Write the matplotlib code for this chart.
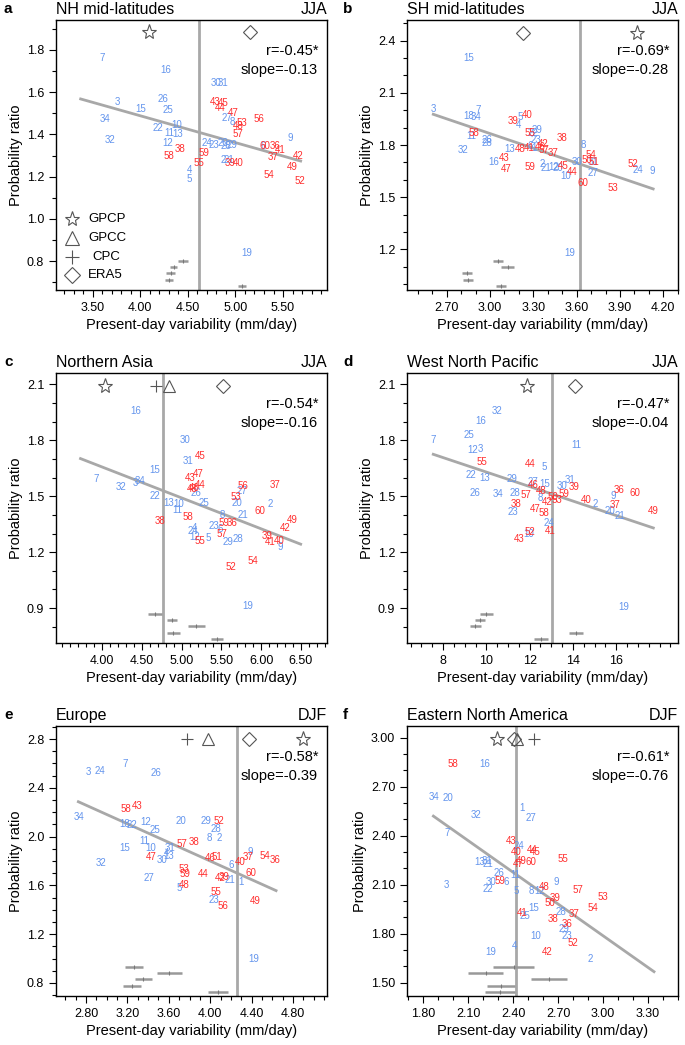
import matplotlib
matplotlib.use("Agg")
import matplotlib.pyplot as plt
from matplotlib.ticker import MultipleLocator, FixedLocator, FormatStrFormatter

plt.rcParams['font.family'] = ['Liberation Sans', 'DejaVu Sans']

BLUE = '#6495ED'
RED = '#FF2F2F'
GRAY = '#A8A8A8'

# ---- panel a: NH mid-latitudes JJA
a_ids = [7, 16, 30, 31, 3, 15, 26, 25, 34, 22, 10, 11, 13, 32, 12, 27, 8, 24, 23, 20, 28, 29, 6, 9, 2, 21, 4, 5, 19,
         43, 45, 44, 47, 53, 48, 57, 56, 38, 58, 59, 55, 60, 36, 41, 37, 42, 39, 40, 49, 54, 52]
a_x = [3.60, 4.27, 4.80, 4.87, 3.76, 4.00, 4.235, 4.29, 3.63, 4.19, 4.38, 4.31, 4.39, 3.68, 4.29, 4.91, 4.97, 4.70,
       4.77, 4.87, 4.90, 4.96, 5.29, 5.58, 4.87, 4.93, 4.52, 4.51, 5.12,
       4.785, 4.87, 4.84, 4.98, 5.065, 5.03, 5.03, 5.25, 4.42, 4.30, 4.67, 4.62, 5.31, 5.415, 5.47, 5.40, 5.66,
       4.94, 5.03, 5.60, 5.355, 5.68]
a_y = [1.76, 1.705, 1.645, 1.645, 1.554, 1.52, 1.57, 1.516, 1.473, 1.43, 1.443, 1.405, 1.40, 1.373, 1.358, 1.48,
       1.46, 1.36, 1.348, 1.36, 1.344, 1.348, 1.345, 1.385, 1.279, 1.279, 1.23, 1.19, 0.836,
       1.555, 1.547, 1.524, 1.503, 1.456, 1.44, 1.40, 1.473, 1.33, 1.30, 1.31, 1.266, 1.345, 1.345, 1.326, 1.294,
       1.297, 1.263, 1.263, 1.247, 1.208, 1.18]

# ---- panel b: SH mid-latitudes JJA
b_ids = [15, 3, 18, 7, 34, 5, 4, 11, 26, 28, 32, 13, 29, 22, 23, 6, 1, 16, 2, 8, 30, 31, 21, 12, 20, 10, 27, 24, 9, 19,
         40, 39, 58, 55, 38, 48, 41, 42, 46, 57, 37, 54, 50, 51, 43, 47, 59, 45, 44, 60, 53, 52]
b_x = [2.85, 2.607, 2.85, 2.92, 2.90, 3.21, 3.196, 2.873, 2.98, 2.98, 2.81, 3.134, 3.327, 3.30, 3.32, 3.277, 3.307,
       3.023, 3.365, 3.646, 3.60, 3.715, 3.39, 3.44, 3.473, 3.526, 3.715, 4.027, 4.127, 3.554,
       3.254, 3.157, 2.889, 3.273, 3.50, 3.212, 3.272, 3.369, 3.346, 3.374, 3.438, 3.697, 3.67, 3.72, 3.10, 3.11,
       3.277, 3.508, 3.572, 3.646, 3.85, 3.99]
b_y = [2.302, 2.006, 1.967, 2.002, 1.96, 1.963, 1.915, 1.852, 1.829, 1.81, 1.772, 1.778, 1.887, 1.868, 1.829, 1.795,
       1.783, 1.70, 1.69, 1.80, 1.705, 1.70, 1.667, 1.672, 1.667, 1.624, 1.642, 1.657, 1.65, 1.178,
       1.973, 1.94, 1.868, 1.871, 1.843, 1.776, 1.782, 1.807, 1.791, 1.772, 1.756, 1.743, 1.714, 1.705, 1.724,
       1.661, 1.672, 1.682, 1.644, 1.58, 1.555, 1.69]

# ---- panel c: Northern Asia JJA
c_ids = [16, 30, 31, 15, 7, 32, 3, 34, 26, 27, 20, 2, 22, 13, 10, 25, 11, 8, 21, 23, 6, 24, 4, 12, 5, 29, 28, 9, 19,
         45, 47, 43, 44, 46, 48, 56, 37, 53, 38, 58, 60, 49, 42, 59, 36, 57, 55, 39, 41, 40, 52, 54]
c_x = [4.427, 5.043, 5.084, 4.666, 3.933, 4.235, 4.415, 4.477, 5.181, 5.755, 5.692, 6.11, 4.666, 4.833, 4.958,
       5.285, 4.946, 5.516, 5.767, 5.406, 5.482, 5.139, 5.16, 5.168, 5.336, 5.587, 5.712, 6.245, 5.833,
       5.231, 5.21, 5.106, 5.231, 5.156, 5.139, 5.767, 6.173, 5.68, 4.73, 5.084, 5.985, 6.396, 6.303, 5.532, 5.64,
       5.503, 5.231, 6.069, 6.119, 6.228, 5.624, 5.896]
c_y = [1.957, 1.800, 1.689, 1.639, 1.591, 1.547, 1.571, 1.582, 1.520, 1.527, 1.464, 1.461, 1.500, 1.464, 1.456,
       1.464, 1.425, 1.402, 1.402, 1.339, 1.327, 1.314, 1.332, 1.282, 1.277, 1.255, 1.270, 1.229, 0.911,
       1.714, 1.622, 1.598, 1.559, 1.545, 1.539, 1.555, 1.563, 1.496, 1.366, 1.389, 1.420, 1.375, 1.332, 1.357,
       1.354, 1.295, 1.259, 1.286, 1.255, 1.259, 1.121, 1.152]

# ---- panel d: West North Pacific JJA
d_ids = [32, 16, 25, 7, 12, 3, 11, 5, 22, 13, 29, 27, 15, 30, 31, 9, 26, 34, 28, 8, 2, 20, 21, 23, 24, 10, 19,
         55, 44, 46, 48, 39, 36, 60, 57, 42, 50, 53, 59, 40, 37, 49, 38, 47, 58, 41, 52, 43]
d_x = [10.51, 9.755, 9.215, 7.55, 9.37, 9.71, 14.14, 12.665, 9.28, 9.94, 11.17, 12.17, 12.71, 13.48, 13.87, 15.87,
       9.48, 10.55, 11.33, 12.51, 15.05, 15.71, 16.18, 11.22, 12.91, 11.94, 16.33,
       9.815, 12.02, 12.17, 12.51, 14.05, 16.14, 16.84, 11.83, 12.79, 13.09, 13.28, 13.6, 14.59, 15.94, 17.69,
       11.37, 12.25, 12.665, 12.94, 12.02, 11.52]
d_y = [1.957, 1.903, 1.827, 1.804, 1.746, 1.756, 1.773, 1.657, 1.613, 1.60, 1.591, 1.577, 1.564, 1.554, 1.586, 1.50,
       1.515, 1.511, 1.52, 1.493, 1.461, 1.421, 1.393, 1.413, 1.357, 1.30, 0.907,
       1.684, 1.672, 1.559, 1.529, 1.55, 1.536, 1.52, 1.505, 1.47, 1.496, 1.482, 1.514, 1.479, 1.452, 1.421,
       1.457, 1.434, 1.41, 1.314, 1.309, 1.273]

# ---- panel e: Europe DJF
e_ids = [3, 24, 7, 26, 34, 18, 22, 12, 25, 20, 29, 28, 11, 8, 2, 15, 10, 31, 4, 13, 30, 32, 6, 9, 27, 21, 1, 5, 23, 19,
         58, 43, 52, 57, 38, 47, 46, 51, 40, 37, 54, 36, 53, 59, 44, 42, 39, 60, 48, 55, 56, 49]
e_x = [2.82, 2.93, 3.177, 3.473, 2.732, 3.177, 3.24, 3.38, 3.467, 3.715, 3.957, 4.053, 3.36, 3.99, 4.088, 3.17,
       3.428, 3.61, 3.58, 3.595, 3.531, 2.945, 4.20, 4.385, 3.409, 4.191, 4.298, 3.699, 4.037, 4.417,
       3.184, 3.29, 4.085, 3.73, 3.843, 3.425, 3.998, 4.063, 4.288, 4.362, 4.53, 4.626, 3.75, 3.757, 3.933, 4.095,
       4.136, 4.394, 3.747, 4.056, 4.127, 4.433]
e_y = [2.532, 2.540, 2.595, 2.519, 2.158, 2.103, 2.095, 2.122, 2.054, 2.130, 2.130, 2.060, 1.966, 1.986, 1.986,
       1.904, 1.904, 1.904, 1.868, 1.841, 1.808, 1.786, 1.767, 1.876, 1.658, 1.644, 1.630, 1.576, 1.480, 0.994,
       2.226, 2.251, 2.130, 1.937, 1.958, 1.830, 1.822, 1.830, 1.794, 1.835, 1.843, 1.808, 1.732, 1.691, 1.691,
       1.658, 1.671, 1.704, 1.603, 1.548, 1.431, 1.475]

# ---- panel f: Eastern North America DJF
f_ids = [16, 34, 20, 32, 1, 27, 7, 24, 13, 31, 21, 26, 11, 3, 30, 6, 22, 5, 8, 12, 9, 15, 28, 25, 29, 23, 10, 4, 19, 2,
         58, 43, 40, 44, 45, 55, 47, 49, 60, 59, 48, 57, 53, 39, 50, 54, 37, 41, 38, 36, 52, 42]
f_x = [2.213, 1.873, 1.965, 2.153, 2.458, 2.52, 1.958, 2.442, 2.18, 2.224, 2.235, 2.309, 2.413, 1.953, 2.251, 2.353,
       2.235, 2.42, 2.525, 2.575, 2.691, 2.535, 2.72, 2.48, 2.742, 2.758, 2.553, 2.413, 2.253, 2.913,
       2.002, 2.391, 2.42, 2.525, 2.547, 2.731, 2.435, 2.458, 2.52, 2.313, 2.607, 2.835, 2.998, 2.68, 2.647, 2.935,
       2.809, 2.458, 2.669, 2.758, 2.802, 2.625]
f_y = [2.839, 2.635, 2.629, 2.527, 2.568, 2.51, 2.418, 2.339, 2.241, 2.247, 2.227, 2.173, 2.159, 2.098, 2.115, 2.115,
       2.074, 2.063, 2.063, 2.063, 2.118, 1.955, 1.934, 1.908, 1.829, 1.786, 1.786, 1.724, 1.686, 1.645,
       2.839, 2.369, 2.302, 2.312, 2.298, 2.255, 2.225, 2.247, 2.237, 2.124, 2.088, 2.067, 2.023, 2.02, 1.99, 1.959,
       1.919, 1.925, 1.89, 1.859, 1.745, 1.686]

panel_letters = ['a', 'b', 'c', 'd', 'e', 'f']
panel_titles = ['NH mid-latitudes', 'SH mid-latitudes', 'Northern Asia', 'West North Pacific', 'Europe',
                'Eastern North America']
panel_seasons = ['JJA', 'JJA', 'JJA', 'JJA', 'DJF', 'DJF']
r_values = ['-0.45*', '-0.69*', '-0.54*', '-0.47*', '-0.58*', '-0.61*']
slope_values = ['-0.13', '-0.28', '-0.16', '-0.04', '-0.39', '-0.76']

# regression line end points (x0, x1, y0, y1)
fit_lines = [(3.374, 5.685, 1.568, 1.274), (2.607, 4.13, 1.977, 1.548), (3.73, 6.496, 1.702, 1.243),
             (7.55, 17.71, 1.725, 1.33), (2.726, 4.636, 2.286, 1.557), (1.869, 3.34, 2.52, 1.567)]
# observed present-day variability (vertical line)
obs_mean = [4.62, 3.624, 4.77, 13.02, 4.256, 2.42]

# observation markers: {name: x}, at height obs_y
obs_names = ['GPCP', 'GPCC', 'CPC', 'ERA5']
obs_symbols = {'GPCP': '*', 'GPCC': '^', 'CPC': '+', 'ERA5': 'D'}
obs_x = [{'GPCP': 4.09, 'ERA5': 5.15},
         {'ERA5': 3.226, 'GPCP': 4.016},
         {'GPCP': 4.04, 'CPC': 4.68, 'GPCC': 4.845, 'ERA5': 5.516},
         {'GPCP': 11.87, 'ERA5': 14.1},
         {'CPC': 3.78, 'GPCC': 3.98, 'ERA5': 4.375, 'GPCP': 4.90},
         {'GPCP': 2.291, 'ERA5': 2.407, 'GPCC': 2.429, 'CPC': 2.54}]
obs_y = [1.885, 2.446, 2.089, 2.089, 2.797, 2.99]

# horizontal range bars: centres, half widths, heights
bar_c = [[4.45, 4.35, 4.32, 4.30, 5.07], [3.057, 3.122, 2.838, 2.847, 3.076], [4.666, 4.876, 5.185, 4.895, 5.445],
         [10.0, 9.71, 9.49, 14.14, 12.53], [3.266, 3.604, 3.354, 3.241, 4.075], [2.404, 2.217, 2.64, 2.321, 2.313]]
bar_hw = [[0.05, 0.035, 0.045, 0.045, 0.045], [0.035, 0.043, 0.035, 0.032, 0.032], [0.084, 0.063, 0.109, 0.084, 0.08],
          [0.29, 0.23, 0.245, 0.31, 0.31], [0.089, 0.121, 0.08, 0.087, 0.1], [0.136, 0.114, 0.122, 0.092, 0.1]]
bar_y = [[0.801, 0.770, 0.742, 0.710, 0.682], [1.136, 1.098, 1.063, 1.025, 0.99], [0.868, 0.836, 0.804, 0.768, 0.733],
         [0.868, 0.836, 0.804, 0.768, 0.733], [0.934, 0.880, 0.830, 0.778, 0.726], [1.598, 1.557, 1.52, 1.481, 1.44]]

# axis setup
xlims = [(3.115, 5.962), (2.425, 4.302), (3.422, 6.827), (6.337, 18.85), (2.51, 5.128), (1.693, 3.50)]
ylims = [(0.663, 1.942), (0.967, 2.519), (0.713, 2.161), (0.713, 2.161), (0.693, 2.907), (1.418, 3.072)]
x_ticks = [[3.5, 4.0, 4.5, 5.0, 5.5], [2.7, 3.0, 3.3, 3.6, 3.9, 4.2], [4.0, 4.5, 5.0, 5.5, 6.0, 6.5],
           [8, 10, 12, 14, 16], [2.8, 3.2, 3.6, 4.0, 4.4, 4.8], [1.8, 2.1, 2.4, 2.7, 3.0, 3.3]]
x_minor = [0.1, 0.1, 0.1, 0.5, 0.1, 0.1]
x_fmt = ['%.2f', '%.2f', '%.2f', '%d', '%.2f', '%.2f']
y_major = [0.2, 0.3, 0.3, 0.3, 0.4, 0.3]
y_minor = [0.1, 0.1, 0.1, 0.1, 0.1, 0.1]
y_fmt = ['%.1f', '%.1f', '%.1f', '%.1f', '%.1f', '%.2f']

data = [(a_ids, a_x, a_y), (b_ids, b_x, b_y), (c_ids, c_x, c_y),
        (d_ids, d_x, d_y), (e_ids, e_x, e_y), (f_ids, f_x, f_y)]

fig = plt.figure(figsize=(6.85, 10.45), dpi=100)
lefts = [56 / 685, 407 / 685]
bottoms = [1 - 290 / 1045, 1 - 643 / 1045, 1 - 996 / 1045]
w, h = 271 / 685, 270 / 1045

for i in range(6):
    ax = fig.add_axes([lefts[i % 2], bottoms[i // 2], w, h])
    ids, xs, ys = data[i]

    ax.axvline(obs_mean[i], color=GRAY, lw=2, zorder=1)
    x0, x1, y0, y1 = fit_lines[i]
    ax.plot([x0, x1], [y0, y1], color=GRAY, lw=2, zorder=1)

    for n, x, y in zip(ids, xs, ys):
        ax.text(x, y, str(n), color=BLUE if n <= 34 else RED, fontsize=7,
                ha='center', va='center', zorder=3)

    for name, x in obs_x[i].items():
        m = obs_symbols[name]
        ms = 11 if m == '*' else (9 if m in '^+' else 7)
        ax.plot(x, obs_y[i], marker=m, ms=ms, mfc='none', mec='#555555', mew=0.8, ls='none', zorder=4)

    for c, hw, y in zip(bar_c[i], bar_hw[i], bar_y[i]):
        ax.plot([c - hw, c + hw], [y, y], color='#999999', lw=1.8, solid_capstyle='butt')
        ax.plot(c, y, marker='|', ms=3, color='#777777', mew=0.8)

    ax.text(0.967, 0.885, 'r=' + r_values[i], transform=ax.transAxes, ha='right', va='center', fontsize=10.5)
    ax.text(0.967, 0.815, 'slope=' + slope_values[i], transform=ax.transAxes, ha='right', va='center',
            fontsize=10.5)

    ax.set_xlim(*xlims[i])
    ax.set_ylim(*ylims[i])
    ax.xaxis.set_major_locator(FixedLocator(x_ticks[i]))
    ax.xaxis.set_minor_locator(MultipleLocator(x_minor[i]))
    ax.yaxis.set_major_locator(MultipleLocator(y_major[i]))
    ax.yaxis.set_minor_locator(MultipleLocator(y_minor[i]))
    ax.xaxis.set_major_formatter(FormatStrFormatter(x_fmt[i]))
    ax.yaxis.set_major_formatter(FormatStrFormatter(y_fmt[i]))
    ax.tick_params(which='both', direction='out', top=False, right=False, labelsize=9, width=0.8)
    ax.tick_params(which='major', length=5)
    ax.tick_params(which='minor', length=3)
    for sp in ax.spines.values():
        sp.set_linewidth(1)

    ax.set_xlabel('Present-day variability (mm/day)', fontsize=10.5, labelpad=3)
    ax.set_ylabel('Probability ratio', fontsize=10.5, labelpad=3)

    ax.text(0, 1.012, panel_titles[i], transform=ax.transAxes, ha='left', va='bottom', fontsize=11.5)
    ax.text(1, 1.012, panel_seasons[i], transform=ax.transAxes, ha='right', va='bottom', fontsize=11.5)
    fx = 4 / 685 if i % 2 == 0 else 343 / 685
    fig.text(fx, bottoms[i // 2] + h + 0.004, panel_letters[i], fontweight='bold', fontsize=11,
             ha='left', va='bottom')

    if i == 0:
        for k, name in enumerate(obs_names):
            yy = 0.262 - k * 0.069
            m = obs_symbols[name]
            ms = 11 if m == '*' else (10 if m in '^+' else 8)
            ax.plot(0.058, yy, marker=m, ms=ms, mfc='none', mec='#555555', mew=0.8,
                    transform=ax.transAxes, ls='none')
            ax.text(0.133 if name == 'CPC' else 0.118, yy, name, transform=ax.transAxes,
                    ha='left', va='center', fontsize=9.5)

fig.savefig('out.png', dpi=100)
